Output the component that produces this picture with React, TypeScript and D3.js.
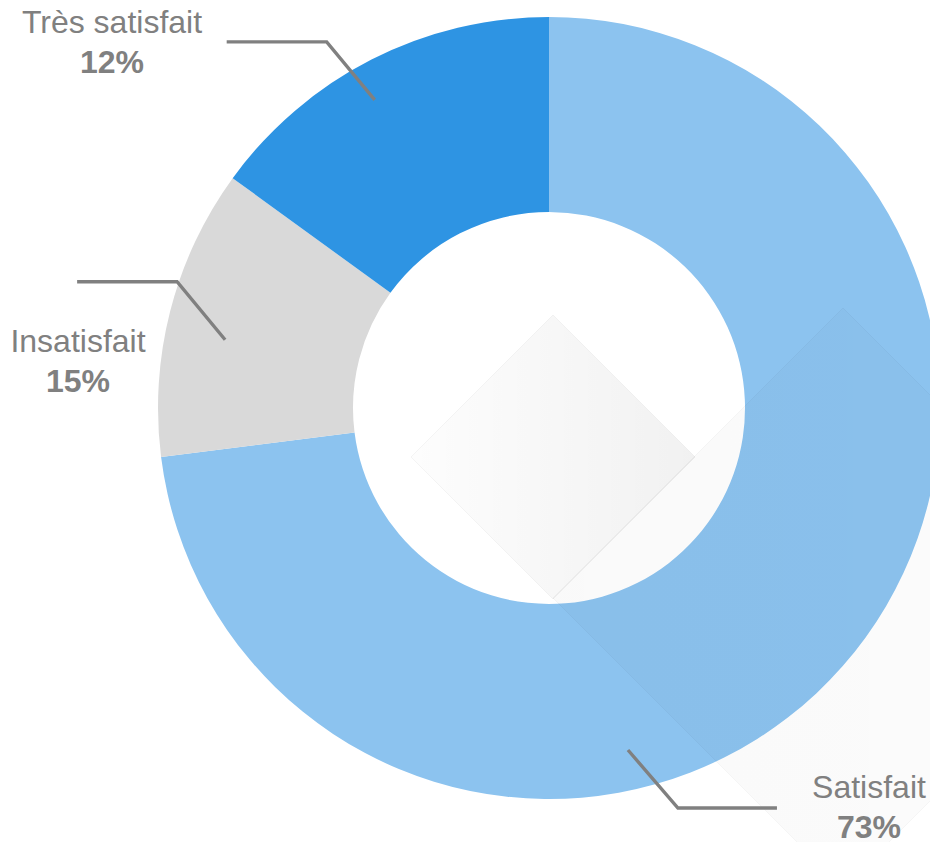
import React from "react";
import * as d3 from "d3";

// ---- data ----
const categories = ["Satisfait", "Insatisfait", "Très satisfait"];
const sliceValues = [73, 12, 15];
const labelPercents = ["73%", "15%", "12%"];
const sliceColors = ["#8CC3EF", "#D9D9D9", "#2E94E3"];

// ---- layout ----
const W = 930;
const H = 842;
const cx = 549;
const cy = 408;
const outerR = 391;
const innerR = 196;
const textColor = "#808080";
const font = "'Liberation Sans', Arial, Helvetica, sans-serif";

// leader: anchor angle (deg clockwise from top), anchor radius, diagonal dx/dy, horizontal length
const leaders = [
  { angle: 167, r: 351, ddx: 50, ddy: 58, hlen: 99, lx: 869, ly: 798 },
  { angle: -78.1, r: 331, ddx: -48, ddy: -58, hlen: -100, lx: 78, ly: 352 },
  { angle: -29.5, r: 354, ddx: -48, ddy: -58, hlen: -100, lx: 112, ly: 33 },
];

function polar(angleDeg: number, r: number): [number, number] {
  const a = (angleDeg * Math.PI) / 180;
  return [cx + r * Math.sin(a), cy - r * Math.cos(a)];
}

export default function App() {
  const pie = d3
    .pie<number>()
    .sort(null)
    .startAngle(0)
    .endAngle(2 * Math.PI)
    .value((d) => d);
  const arcs = pie(sliceValues);
  const arcGen = d3.arc<d3.PieArcDatum<number>>().innerRadius(innerR).outerRadius(outerR);

  const diamond = (x: number, y: number, h: number) =>
    `M${x},${y - h}L${x + h},${y}L${x},${y + h}L${x - h},${y}Z`;

  return (
    <svg
      width={W}
      height={H}
      style={{ position: "absolute", left: 0, top: 0, background: "#fff" }}
    >
      <defs>
        <linearGradient id="smallG" x1="0" x2="1" y1="0" y2="0">
          <stop offset="0" stopColor="#000" stopOpacity={0.008} />
          <stop offset="1" stopColor="#000" stopOpacity={0.055} />
        </linearGradient>
        <linearGradient id="bigG" x1="0" x2="1" y1="0" y2="0">
          <stop offset="0" stopColor="#000" stopOpacity={0.022} />
          <stop offset="1" stopColor="#000" stopOpacity={0.014} />
        </linearGradient>
      </defs>
      <g transform={`translate(${cx},${cy})`}>
        {arcs.map((a, i) => (
          <path key={categories[i]} d={arcGen(a) || ""} fill={sliceColors[i]} />
        ))}
      </g>
      <path
        d={diamond(cx + 294, cy + 190, 290)}
        fill="url(#bigG)"
        stroke="#000"
        strokeOpacity={0.03}
        strokeWidth={1}
      />
      <path
        d={diamond(cx + 4, cy + 49, 142)}
        fill="url(#smallG)"
        stroke="#000"
        strokeOpacity={0.04}
        strokeWidth={1}
      />
      {leaders.map((l, i) => {
        const [x0, y0] = polar(l.angle, l.r);
        const x1 = x0 + l.ddx;
        const y1 = y0 + l.ddy;
        const x2 = x1 + l.hlen;
        return (
          <g key={"l" + i}>
            <path
              d={`M${x0},${y0}L${x1},${y1}L${x2},${y1}`}
              fill="none"
              stroke={textColor}
              strokeWidth={3.4}
            />
            <text
              x={l.lx}
              y={l.ly}
              textAnchor="middle"
              fontFamily={font}
              fontSize={32}
              fill={textColor}
            >
              {categories[i]}
            </text>
            <text
              x={l.lx}
              y={l.ly + 40}
              textAnchor="middle"
              fontFamily={font}
              fontSize={32}
              fontWeight="bold"
              fill={textColor}
            >
              {labelPercents[i]}
            </text>
          </g>
        );
      })}
    </svg>
  );
}
